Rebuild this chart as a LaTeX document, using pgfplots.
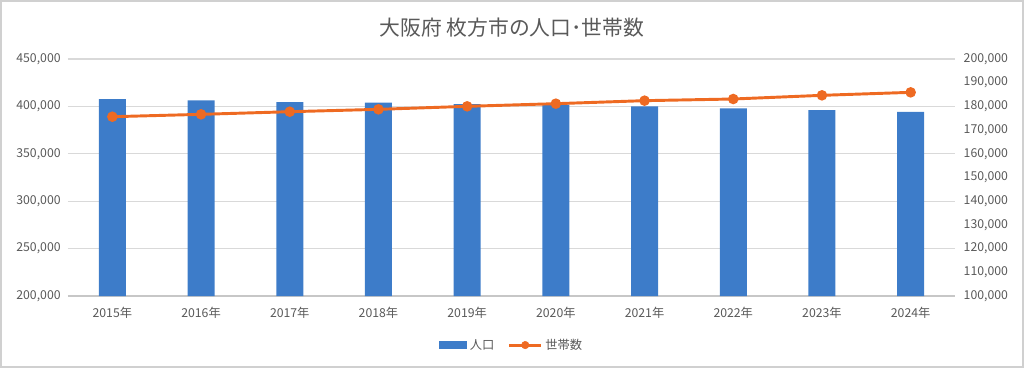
\documentclass[border=0pt]{standalone}
\usepackage{pgfplots}
\pgfplotsset{compat=1.18}
\usepackage{fontspec}
\setmainfont{Noto Sans CJK JP}
\definecolor{barblue}{HTML}{3D7CC9}
\definecolor{lineorange}{HTML}{EE6A22}
\definecolor{txtgray}{HTML}{595959}
\definecolor{gridgray}{HTML}{D9D9D9}
\definecolor{framegray}{HTML}{D0D0D0}
\begin{document}
\begin{tikzpicture}
\useasboundingbox (0pt,0pt) rectangle (768pt,276pt);
\draw[framegray, line width=1.2pt] (0.9pt,0.9pt) rectangle (767.1pt,275.1pt);
\node[txtgray, font=\fontsize{15.6pt}{17pt}\selectfont] at (384pt,255.5pt) {大阪府 枚方市の人口･世帯数};
\begin{axis}[
  at={(51pt,54pt)}, anchor=south west,
  scale only axis, width=665.25pt, height=177.75pt,
  xmin=-0.5, xmax=9.5, ymin=200000, ymax=450000,
  ytick={200000,250000,300000,350000,400000,450000},
  xtick={0,...,9},
  xticklabels={2015年,2016年,2017年,2018年,2019年,2020年,2021年,2022年,2023年,2024年},
  scaled y ticks=false,
  /pgf/number format/fixed, /pgf/number format/1000 sep={,}, /pgf/number format/assume math mode=true,
  ticklabel style={txtgray, font=\fontsize{9.2pt}{11pt}\selectfont},
  major tick length=0pt,
  axis line style={draw=none},
  ymajorgrids, grid style={gridgray, line width=0.8pt},
  xtick pos=bottom, ytick pos=left,
  yticklabel style={xshift=-2pt},
  xticklabel style={yshift=-5pt},
  legend style={at={(0.5006,-0.207)}, anchor=center, draw=none, fill=none,
    legend columns=2, font=\fontsize{9.2pt}{11pt}\selectfont, text=txtgray,
    /tikz/every even column/.append style={column sep=8pt}},
]
\draw[gridgray!80!gray, line width=0.8pt] (axis cs:-0.5,200000) -- (axis cs:9.5,200000);
\addplot[ybar, bar width=20.25pt, fill=barblue, draw=none,
  legend image code/.code={\fill[barblue] (0pt,-3pt) rectangle (21pt,3pt);}]
  coordinates {(0,407800) (1,406400) (2,404600) (3,403900) (4,402500) (5,401800) (6,400100) (7,398000) (8,396200) (9,394100)};
\addlegendentry{人口}
\addlegendimage{legend image code/.code={\draw[lineorange, line width=2.2pt] (0pt,0pt) -- (24pt,0pt); \fill[lineorange] (12pt,0pt) circle (2.8pt);}}
\addlegendentry{世帯数}
\end{axis}
\begin{axis}[
  at={(51pt,54pt)}, anchor=south west,
  scale only axis, width=665.25pt, height=177.75pt,
  xmin=-0.5, xmax=9.5, ymin=100000, ymax=200000,
  ytick={100000,110000,...,200000},
  xtick=\empty,
  axis y line*=right, axis x line=none,
  y axis line style={draw=none},
  scaled y ticks=false,
  /pgf/number format/fixed, /pgf/number format/1000 sep={,}, /pgf/number format/assume math mode=true,
  ticklabel style={txtgray, font=\fontsize{9.2pt}{11pt}\selectfont},
  yticklabel style={xshift=3pt},
  major tick length=0pt,
]
\addplot[lineorange, line width=2.2pt, mark=*, mark size=2.8pt, mark options={fill=lineorange, draw=lineorange}]
  coordinates {(0,175650) (1,176650) (2,177760) (3,178760) (4,180030) (5,181150) (6,182420) (7,183120) (8,184670) (9,185930)};
\end{axis}
\end{tikzpicture}
\end{document}
